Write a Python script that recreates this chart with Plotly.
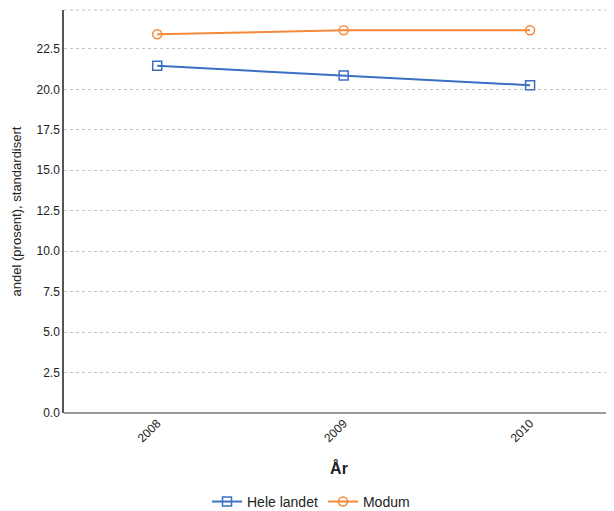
import plotly.graph_objects as go

years = ["2008", "2009", "2010"]
hele_landet = [21.45, 20.85, 20.25]
modum = [23.4, 23.65, 23.65]
y_ticks = [0.0, 2.5, 5.0, 7.5, 10.0, 12.5, 15.0, 17.5, 20.0, 22.5]

fig = go.Figure()
fig.add_trace(go.Scatter(
    x=years, y=hele_landet, name="Hele landet", mode="lines+markers",
    line=dict(color="#3a6fc4", width=2),
    marker=dict(symbol="square-open", size=9, color="#3a6fc4", line=dict(width=1.5)),
))
fig.add_trace(go.Scatter(
    x=years, y=modum, name="Modum", mode="lines+markers",
    line=dict(color="#f4893a", width=2),
    marker=dict(symbol="circle-open", size=9, color="#f4893a", line=dict(width=1.5)),
))

fig.update_layout(
    width=606, height=503,
    margin=dict(l=56, r=0, t=2, b=98, autoexpand=False),
    paper_bgcolor="white", plot_bgcolor="white",
    font=dict(family="Liberation Sans, Arial, sans-serif", size=12, color="#222"),
    showlegend=True,
    legend=dict(orientation="h", xref="container", yref="container",
                x=0.5, xanchor="center", y=0.018, yanchor="middle",
                font=dict(size=14, color="#222"), itemwidth=30, tracegroupgap=0),
    xaxis=dict(
        type="category", range=[-0.5, 2.45], automargin=False,
        tickangle=-45, tickfont=dict(size=12),
        showgrid=False, showline=False, ticks="",
        title=dict(text="<b>År</b>", font=dict(size=16), standoff=18),
    ),
    yaxis=dict(
        range=[0, 24.9], tickvals=y_ticks, ticktext=[f"{v:.1f}" for v in y_ticks],
        tickfont=dict(size=12), automargin=False,
        showgrid=True, gridcolor="#c4c4c4", griddash="dot", gridwidth=1,
        showline=True, linecolor="#555", linewidth=1.5,
        ticks="", zeroline=True, zerolinecolor="#999",
        title=dict(text="andel (prosent), standardisert", font=dict(size=13), standoff=12),
    ),
)
fig.add_shape(type="line", xref="paper", yref="paper", x0=0, x1=1, y0=1, y1=1,
              line=dict(color="#c4c4c4", width=1, dash="dot"))

fig.write_html("out.html")
